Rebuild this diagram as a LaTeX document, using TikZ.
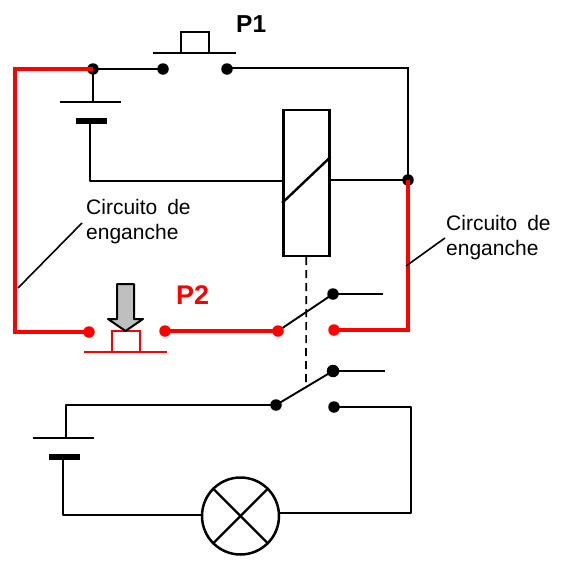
\documentclass[tikz,border=0pt]{standalone}
\usepackage{fontspec}
\setmainfont[WordSpace=1.7]{Liberation Sans}
\tikzset{
  wire/.style={line width=1.9pt,black},
  thinwire/.style={line width=1.6pt,black},
  redwire/.style={line width=4pt,red,line join=miter},
  dot/.style={circle,fill=black,draw=none,inner sep=0pt,outer sep=0pt,minimum size=11.5pt},
  reddot/.style={dot,fill=red,minimum size=11.5pt},
  label/.style={anchor=north west,inner sep=0pt,align=left,font=\fontsize{21}{25}\selectfont},
}
\begin{document}
\begin{tikzpicture}[x=1pt,y=-1pt]
\useasboundingbox (0,0) rectangle (568,570);
% junctions and terminals
\node[dot] (j1) at (93,69) {};
\node[dot] (a) at (163,69) {};
\node[dot] (b) at (227,69) {};
\node[dot] (j2) at (408,180) {};
\node[reddot] (c) at (89,332) {};
\node[reddot] (d) at (165,331) {};
\node[reddot] (e) at (278,331) {};
\node[reddot] (f) at (334,330) {};
\node[dot] (g) at (333,294) {};
\node[dot,minimum size=12.5pt] (h) at (333,371) {};
\node[dot] (k) at (276,405) {};
\node[dot] (l) at (334,407) {};
% coordinates
\coordinate (r1) at (15,69);
\coordinate (r2) at (15,332);
\coordinate (r3) at (408,330);
\coordinate (w1) at (408,68);
\coordinate (b1) at (227,68);
\coordinate (bat1t) at (93,102);
\coordinate (bat1b) at (90,121);
\coordinate (w2) at (90,181);
\coordinate (g2) at (383,294);
\coordinate (h2) at (385,371);
\coordinate (l2) at (411,407);
\coordinate (l3) at (411,513);
\coordinate (k2) at (66,405);
\coordinate (bat2t) at (66,438);
\coordinate (bat2b) at (63,457);
\coordinate (m1) at (63,515);
% coil and lamp
\node[draw,line width=2.4pt,minimum width=46pt,minimum height=146pt,inner sep=0pt] (coil) at (306.3,183) {};
\draw[line width=2.4pt] (coil.west |- 0,203) -- (coil.east |- 0,157);
\node[draw,circle,line width=2.5pt,minimum size=77pt,inner sep=0pt] (lamp) at (240.5,516) {};
\draw[line width=2.2pt] (lamp.135) -- (lamp.315);
\draw[line width=2.2pt] (lamp.45) -- (lamp.225);
% wires
\draw[wire] (j1.center) -- (a.center);
\draw[wire] (b1) -- (w1) -- (j2.center);
\draw[wire] (j1.center) -- (bat1t);
\draw[wire,line join=round] (bat1b) -- (w2) -- (coil.west |- w2);
\draw[wire] (coil.east |- j2) -- (j2.center);
\draw[wire] (e) -- (g.center);
\draw[wire] (g.center) -- (g2);
\draw[wire] (k.center) -- (h.center);
\draw[wire] (h.center) -- (h2);
\draw[wire,line join=round] (k.center) -- (k2) -- (bat2t);
\draw[wire,line join=round] (bat2b) -- (m1) -- (lamp.west |- m1);
\draw[wire,line join=round] (l.center) -- (l2) -- (l3) -- (lamp.east |- l3);
% dashed link
\draw[line width=1.7pt,dash pattern=on 8pt off 5pt] (coil.south) -- (306,388);
% P1 push button
\draw[wire] (153,53) -- (236,53);
\draw[wire,line width=2pt] (181,53) -- (181,32) -- (209,32) -- (209,53);
% batteries
\draw[thinwire] (60,102) -- (121,102);
\draw[line width=5.5pt] (76,121) -- (107,121);
\draw[thinwire] (33,438) -- (94,438);
\draw[line width=5.5pt] (49,457) -- (80,457);
% red circuit
\draw[redwire] (j1.center) -- (r1) -- (r2) -- (c.center);
\draw[redwire] (j2.center) -- (r3) -- (f.center);
\draw[redwire] (d.center) -- (e.center);
% P2 push button
\draw[red,line width=2.2pt] (84,352) -- (167,352);
\draw[red,line width=2.2pt] (112,352) -- (112,331) -- (140,331) -- (140,352);
\draw[fill={rgb,255:red,191;green,191;blue,191},line width=2pt,line join=round]
  (117,284) -- (134,284) -- (134,319) -- (143,319) -- (125.5,331) -- (108,319) -- (117,319) -- cycle;
% leaders
\coordinate (t1) at (82,223);
\coordinate (t1e) at (18,288);
\coordinate (t2) at (445,238);
\coordinate (t2e) at (406,266);
\draw[thinwire] (t1) -- (t1e);
\draw[thinwire] (t2) -- (t2e);
% labels
\node[label] (lab1) at (86,199) {Circuito de\\enganche};
\node[label] (lab2) at (446,215) {Circuito de\\enganche};
\node[anchor=base west,inner sep=0pt,font=\fontsize{24.5}{28}\bfseries\selectfont] (p1) at (236,32) {P1};
\node[anchor=base west,inner sep=0pt,font=\fontsize{27}{30}\bfseries\selectfont,text=red] (p2) at (176,304) {P2};
\end{tikzpicture}
\end{document}
